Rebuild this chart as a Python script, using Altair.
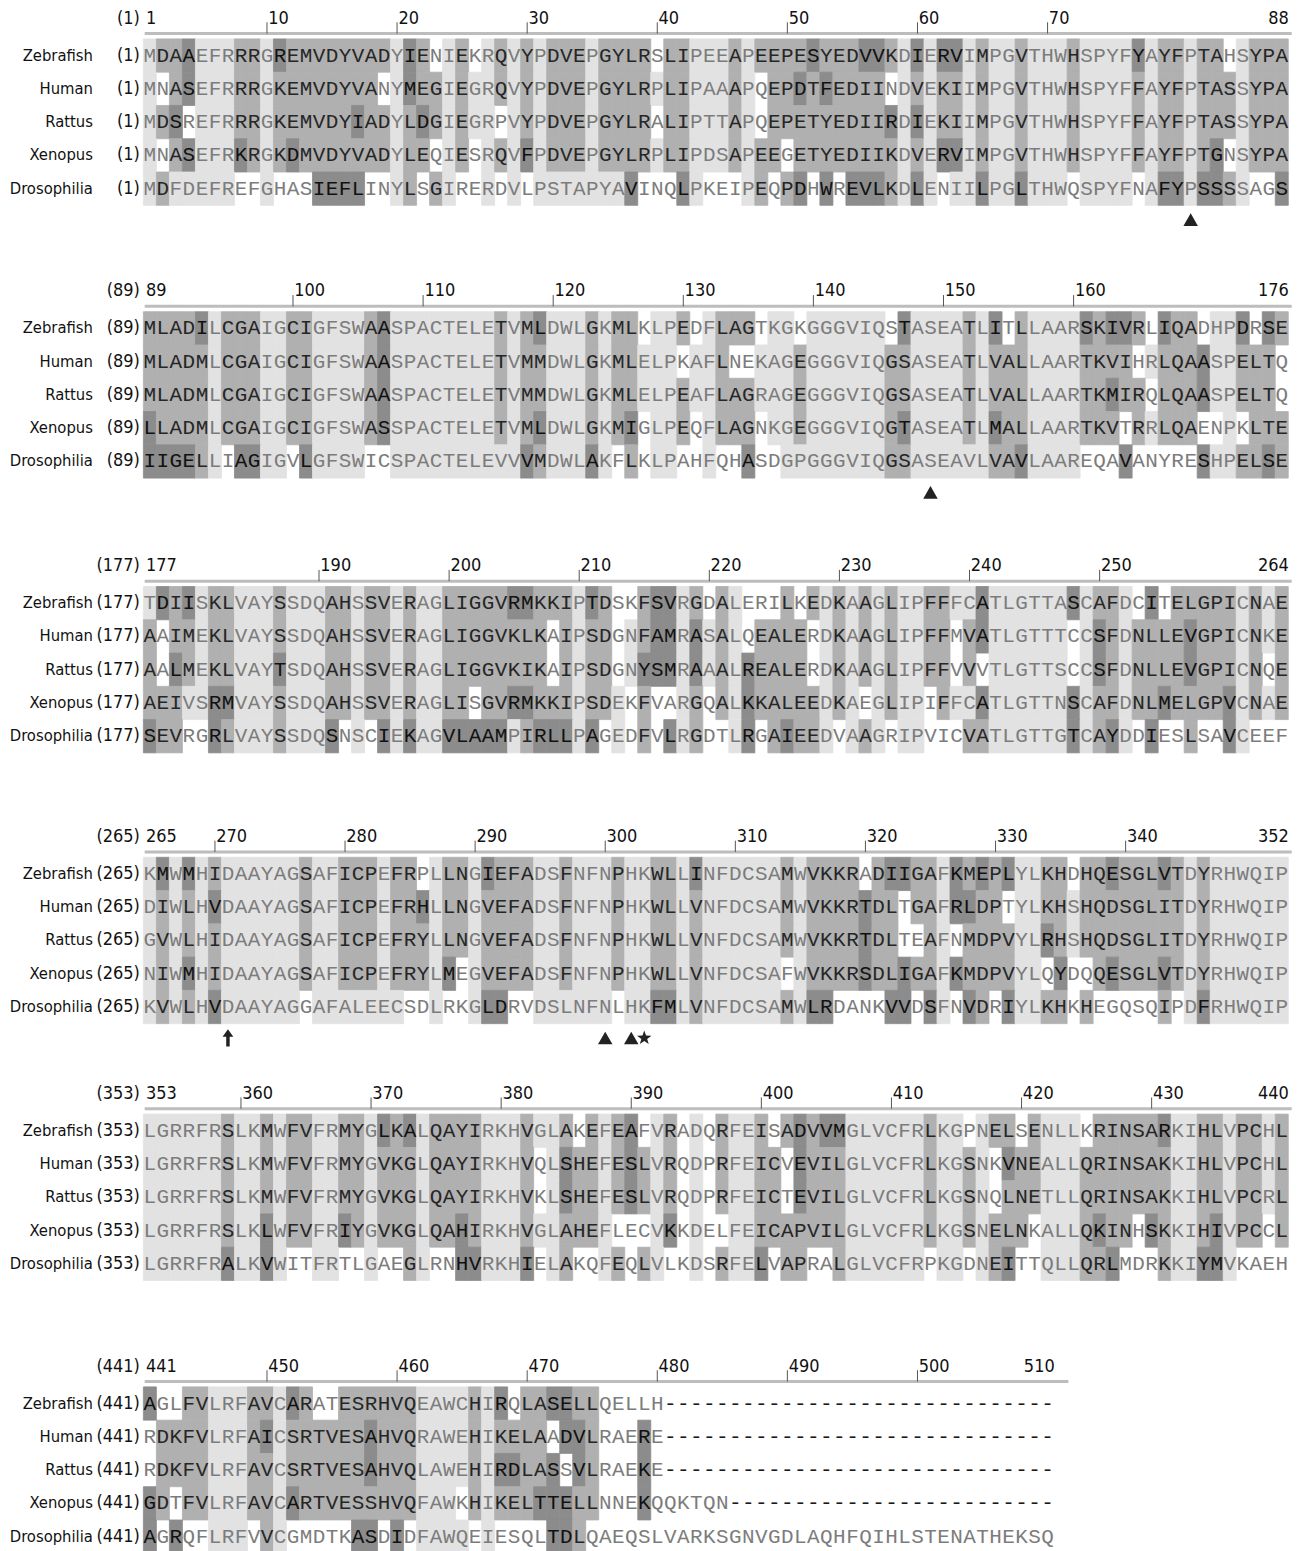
import altair as alt
import pandas as pd

SPECIES = ["Zebrafish", "Human", "Rattus", "Xenopus", "Drosophilia"]
BLOCK_START = [1, 89, 177, 265, 353, 441]
BLOCK_LABELS = [
    [1, 10, 20, 30, 40, 50, 60, 70, 88],
    [89, 100, 110, 120, 130, 140, 150, 160, 176],
    [177, 190, 200, 210, 220, 230, 240, 250, 264],
    [265, 270, 280, 290, 300, 310, 320, 330, 340, 352],
    [353, 360, 370, 380, 390, 400, 410, 420, 430, 440],
    [441, 450, 460, 470, 480, 490, 500, 510],
]

SEQ_ZEBRAFISH = [
    "MDAAEFRRRGREMVDYVADYIENIEKRQVYPDVEPGYLRSLIPEEAPEEPESYEDVVKDIERVIMPGVTHWHSPYFYAYFPTAHSYPA",
    "MLADILCGAIGCIGFSWAASPACTELETVMLDWLGKMLKLPEDFLAGTKGKGGGVIQSTASEATLITLLAARSKIVRLIQADHPDRSE",
    "TDIISKLVAYSSDQAHSSVERAGLIGGVRMKKIPTDSKFSVRGDALERILKEDKAAGLIPFFFCATLGTTASCAFDCITELGPICNAE",
    "KMWMHIDAAYAGSAFICPEFRPLLNGIEFADSFNFNPHKWLLINFDCSAMWVKKRADIIGAFKMEPLYLKHDHQESGLVTDYRHWQIP",
    "LGRRFRSLKMWFVFRMYGLKALQAYIRKHVGLAKEFEAFVRADQRFEISADVVMGLVCFRLKGPNELSENLLKRINSARKIHLVPCHL",
    "AGLFVLRFAVCARATESRHVQEAWCHIRQLASELLQELLH" "----------" "----------" "----------",
]
SEQ_HUMAN = [
    "MNASEFRRRGKEMVDYVANYMEGIEGRQVYPDVEPGYLRPLIPAAAPQEPDTFEDIINDVEKIIMPGVTHWHSPYFFAYFPTASSYPA",
    "MLADMLCGAIGCIGFSWAASPACTELETVMMDWLGKMLELPKAFLNEKAGEGGGVIQGSASEATLVALLAARTKVIHRLQAASPELTQ",
    "AAIMEKLVAYSSDQAHSSVERAGLIGGVKLKAIPSDGNFAMRASALQEALERDKAAGLIPFFMVATLGTTTCCSFDNLLEVGPICNKE",
    "DIWLHVDAAYAGSAFICPEFRHLLNGVEFADSFNFNPHKWLLVNFDCSAMWVKKRTDLTGAFRLDPTYLKHSHQDSGLITDYRHWQIP",
    "LGRRFRSLKMWFVFRMYGVKGLQAYIRKHVQLSHEFESLVRQDPRFEICVEVILGLVCFRLKGSNKVNEALLQRINSAKKIHLVPCHL",
    "RDKFVLRFAICSRTVESAHVQRAWEHIKELAADVLRAERE" "----------" "----------" "----------",
]
SEQ_RATTUS = [
    "MDSREFRRRGKEMVDYIADYLDGIEGRPVYPDVEPGYLRALIPTTAPQEPETYEDIIRDIEKIIMPGVTHWHSPYFFAYFPTASSYPA",
    "MLADMLCGAIGCIGFSWAASPACTELETVMMDWLGKMLELPEAFLAGRAGEGGGVIQGSASEATLVALLAARTKMIRQLQAASPELTQ",
    "AALMEKLVAYTSDQAHSSVERAGLIGGVKIKAIPSDGNYSMRAAALREALERDKAAGLIPFFVVVTLGTTSCCSFDNLLEVGPICNQE",
    "GVWLHIDAAYAGSAFICPEFRYLLNGVEFADSFNFNPHKWLLVNFDCSAMWVKKRTDLTEAFNMDPVYLRHSHQDSGLITDYRHWQIP",
    "LGRRFRSLKMWFVFRMYGVKGLQAYIRKHVKLSHEFESLVRQDPRFEICTEVILGLVCFRLKGSNQLNETLLQRINSAKKIHLVPCRL",
    "RDKFVLRFAVCSRTVESAHVQLAWEHIRDLASSVLRAEKE" "----------" "----------" "----------",
]
SEQ_XENOPUS = [
    "MNASEFRKRGKDMVDYVADYLEQIESRQVFPDVEPGYLRPLIPDSAPEEGETYEDIIKDVERVIMPGVTHWHSPYFFAYFPTGNSYPA",
    "LLADMLCGAIGCIGFSWASSPACTELETVMLDWLGKMIGLPEQFLAGNKGEGGGVIQGTASEATLMALLAARTKVTRRLQAENPKLTE",
    "AEIVSRMVAYSSDQAHSSVERAGLISGVRMKKIPSDEKFVARGQALKKALEEDKAEGLIPIFFCATLGTTNSCAFDNLMELGPVCNAE",
    "NIWMHIDAAYAGSAFICPEFRYLMEGVEFADSFNFNPHKWLLVNFDCSAFWVKKRSDLIGAFKMDPVYLQYDQQESGLVTDYRHWQIP",
    "LGRRFRSLKLWFVFRIYGVKGLQAHIRKHVGLAHEFLECVKKDELFEICAPVILGLVCFRLKGSNELNKALLQKINHSKKIHIVPCCL",
    "GDTFVLRFAVCARTVESSHVQFAWKHIKELTTELLNNEKQQKTQN" "----------" "----------" "-----",
]
SEQ_DROSOPHILIA = [
    "MDFDEFREFGHASIEFLINYLSGIRERDVLPSTAPYAVINQLPKEIPEQPDHWREVLKDLENIILPGLTHWQSPYFNAFYPSSSSAGS",
    "IIGELLIAGIGVLGFSWICSPACTELEVVVMDWLAKFLKLPAHFQHASDGPGGGVIQGSASEAVLVAVLAAREQAVANYRESHPELSE",
    "SEVRGRLVAYSSDQSNSCIEKAGVLAAMPIRLLPAGEDFVLRGDTLRGAIEEDVAAGRIPVICVATLGTTGTCAYDDIESLSAVCEEF",
    "KVWLHVDAAYAGGAFALEECSDLRKGLDRVDSLNFNLHKFMLVNFDCSAMWLRDANKVVDSFNVDRIYLKHKHEGQSQIPDFRHWQIP",
    "LGRRFRALKVWITFRTLGAEGLRNHVRKHIELAKQFEQLVLKDSRFELVAPRALGLVCFRPKGDNEITTQLLQRLMDRKKIYMVKAEH",
    "AGRQFLRFVVCGMDTKASDIDFAWQEIESQLTDLQAEQSLVARKSGNVGDLAQHFQIHLSTENATHEKSQ",
]

# shading level read per residue: 0 none, 1 light, 2 medium, 3 dark
SHADE_ZEBRAFISH = [
    "1223111221" "3222222221" "3201201212" "1222122220" "2211121222" "2322233213" "1331211211" "1211113122" "12201222",
    "2222312221" "1221111231" "1111111212" "3111212201" "1201222011" "0111111031" "1112130211" "1132332032" "20113032",
    "1323122111" "2111221221" "2112222233" "2221320023" "3120210002" "0212121211" "2211311111" "1312210302" "22221212",
    "1313121111" "1121122212" "2012213222" "1121112112" "2131111112" "1222202332" "2132323112" "2022322232" "12111111",
    "1111112112" "1221122132" "3122221112" "1120212301" "2010211202" "3233111111" "2110122021" "1102222231" "12212212",
    "3002211122" "1320022222" "2111121302" "2332200000" "0000000000" "0000000000" "0000000000",
]
SHADE_HUMAN = [
    "1023111221" "2222222201" "3221211212" "1222122221" "2211121022" "3232222012" "1221211211" "1211112122" "12221222",
    "2222212221" "1221111231" "1111111212" "2111212211" "1011200111" "2111111221" "1112122211" "1122220122" "23112220",
    "2022122111" "2111221221" "2112222222" "2021220123" "3131210222" "2012121211" "2202311111" "1013212222" "32221212",
    "1212131111" "1121122212" "2312212222" "1121112112" "2121111112" "1222232202" "2133220112" "2122222222" "12111111",
    "1111112112" "1221122122" "2122221112" "0132212321" "2010211220" "3222111111" "2112103221" "1122222221" "12212212",
    "0222211123" "1222222322" "2111121222" "2033200030" "0000000000" "0000000000" "0000000000",
]
SHADE_RATTUS = [
    "1230111221" "2222223221" "2321211012" "1222122220" "2211121022" "2222222313" "1221211211" "1211112122" "12221222",
    "2222212221" "1221111231" "1111111212" "2111212211" "1211222111" "2111111221" "1112122211" "1122322022" "23112220",
    "2032122111" "3111221221" "2112222222" "2021220133" "3131213222" "2012121211" "2202011111" "1013212222" "32221202",
    "1212121111" "1121122212" "2212212222" "1121112112" "2121111112" "1222232200" "2102222113" "2122222222" "12111111",
    "1111112112" "1221122122" "2122221112" "0132212321" "2010211220" "3222111111" "2112102221" "1122222221" "12212212",
    "0222211122" "1222222322" "2111121332" "2303200030" "0000000000" "0000000000" "0000000000",
]
SHADE_XENOPUS = [
    "1023111321" "2322222221" "2201201213" "1222122221" "2211121220" "2222222212" "1331211211" "1211112122" "12301222",
    "3222212221" "1221111231" "1111111212" "3111212301" "1201222011" "2111111231" "1112132211" "1122202122" "20010222",
    "2221133111" "2111221221" "2112202233" "2221221020" "0120213222" "2212101211" "0211311111" "1312212232" "22231212",
    "1213121111" "1121122212" "2213012222" "1121112112" "2121111110" "1222232232" "2132222110" "3002322232" "12111111",
    "1111112113" "1221132122" "2122321112" "1122210001" "3010011222" "2222111111" "2112122201" "1123220321" "12312202",
    "3202211122" "1322222222" "2111021222" "3332200030" "0000000000" "0000000000" "0000000000",
]
SHADE_DROSOPHILIA = [
    "1211111001" "0003333001" "2021001010" "1111111300" "0310001202" "3030333213" "1011311311" "1011110133" "13321003",
    "3333210331" "1031111001" "1111111113" "2111310201" "1001003001" "1111111221" "1111122311" "1100030000" "03112232",
    "3220032111" "2111301031" "3113333312" "3331301020" "3120013023" "2210121011" "0002211111" "1312310300" "20031000",
    "1212131111" "1101111111" "0010013300" "1111110113" "3121111112" "1330000330" "3103203112" "2020000020" "13111111",
    "1111113113" "1001100100" "2100331113" "0120012021" "0010211302" "2002111111" "0110123001" "1122300021" "13310000",
    "3030011102" "1000003303" "0111101000" "0332000000" "0000000000" "0000000000" "0000000000",
]

MARK_POS = [81, 149, 271, 300, 302, 303]
MARK_KIND = ["triangle", "triangle", "arrow", "triangle", "triangle", "star"]

SEQS = [SEQ_ZEBRAFISH, SEQ_HUMAN, SEQ_RATTUS, SEQ_XENOPUS, SEQ_DROSOPHILIA]
SHADES = [SHADE_ZEBRAFISH, SHADE_HUMAN, SHADE_RATTUS, SHADE_XENOPUS, SHADE_DROSOPHILIA]

for s_list, h_list in zip(SEQS, SHADES):
    for b in range(6):
        n = 88 if b < 5 else 70
        assert len(s_list[b]) == n, (b, len(s_list[b]), s_list[b][:10])
        assert len(h_list[b]) == n, (b, len(h_list[b]), h_list[b][:10])

# ---- layout ----
COL_PX = 13.02
ROW_PX = 33.3
W = 1286
X_DOMAIN = [1 - 142 / COL_PX, 1 + (W - 142) / COL_PX]
Y_TOP = -47 / ROW_PX
BLOCK_H = [273, 275, 271, 257, 273, 195]
HEADER_ROW = -37 / ROW_PX
RULER_ROW = -22 / ROW_PX
TICK_TOP = -1.0
MARK_ROW = 4.93
NAME_X = 1 + (93 - 150) / COL_PX
NUM_X = 1 + (140 - 150) / COL_PX

BG = ["#e2e2e2", "#b0b0b0", "#8c8c8c"]
TXT = ["#7c7c7c", "#7c7c7c", "#262626", "#111111", "#1a1a1a"]
LABEL_FONT = "DejaVu Sans Condensed, Liberation Sans Narrow, Liberation Sans"
NAME_SIZE = 16.5
NUM_SIZE = 18

STAR = ("M0,-1L0.235,-0.324L0.951,-0.309L0.38,0.124L0.588,0.809L0,0.4"
        "L-0.588,0.809L-0.38,0.124L-0.951,-0.309L-0.235,-0.324Z")
ARROW = "M0,-1L0.62,-0.15L0.2,-0.15L0.2,1L-0.2,1L-0.2,-0.15L-0.62,-0.15Z"


def block_chart(b):
    h = BLOCK_H[b]
    start = BLOCK_START[b]
    n = len(SEQS[0][b])
    xs = alt.Scale(domain=X_DOMAIN, nice=False, zero=False)
    ys = alt.Scale(domain=[Y_TOP, Y_TOP + h / ROW_PX], nice=False, zero=False, reverse=True)

    def X(f):
        return alt.X(f, type="quantitative", scale=xs, axis=None)

    def Y(f):
        return alt.Y(f, type="quantitative", scale=ys, axis=None)

    cells = []
    for r in range(5):
        seq = SEQS[r][b]
        sh = SHADES[r][b]
        for i, (ch, lv) in enumerate(zip(seq, sh)):
            lvl = int(lv)
            cells.append(dict(col=i + 1, x0=i + 0.5, x1=i + 1.5, row=r,
                              y0=r - 0.5, y1=r + 0.5, ch=ch, level=lvl,
                              tone=4 if ch == "-" else lvl))
    cdf = pd.DataFrame(cells)

    bg = alt.Chart(cdf).transform_filter("datum.level > 0").mark_rect(strokeWidth=0.8).encode(
        x=X("x0"), x2="x1", y=Y("y0"), y2="y1",
        fill=alt.Fill("level:O", scale=alt.Scale(domain=[1, 2, 3], range=BG), legend=None),
        stroke=alt.Stroke("level:O", scale=alt.Scale(domain=[1, 2, 3], range=BG), legend=None),
    )
    txt = alt.Chart(cdf).mark_text(font="Liberation Mono", fontSize=21, baseline="middle",
                                   align="center").encode(
        x=X("col"), y=Y("row"), text="ch:N",
        color=alt.Color("tone:O", scale=alt.Scale(domain=[0, 1, 2, 3, 4], range=TXT), legend=None),
    )

    ndf = pd.DataFrame({"name": SPECIES, "row": list(range(5)), "x": [NAME_X] * 5})
    names = alt.Chart(ndf).mark_text(font=LABEL_FONT, fontSize=NAME_SIZE, align="right",
                                     baseline="middle", color="#111").encode(
        x=X("x"), y=Y("row"), text="name:N")

    num_rows = [HEADER_ROW] + list(range(5))
    nmdf = pd.DataFrame({"lab": ["(%d)" % start] * 6, "row": num_rows, "x": [NUM_X] * 6})
    nums = alt.Chart(nmdf).mark_text(font=LABEL_FONT, fontSize=NUM_SIZE, align="right",
                                     baseline="middle", color="#111").encode(
        x=X("x"), y=Y("row"), text="lab:N")

    labs = BLOCK_LABELS[b]
    hd = []
    for k, v in enumerate(labs):
        col = v - start + 1
        if k == 0:
            hd.append(dict(lab=str(v), x=col - 0.3, col=col, kind="first", row=HEADER_ROW))
        elif k == len(labs) - 1:
            hd.append(dict(lab=str(v), x=col + 0.55, col=col, kind="last", row=HEADER_ROW))
        else:
            hd.append(dict(lab=str(v), x=col + 0.1, col=col, kind="mid", row=HEADER_ROW,
                           t0=TICK_TOP, t1=RULER_ROW))
    hdf = pd.DataFrame(hd)
    head_l = alt.Chart(hdf).transform_filter("datum.kind != 'last'").mark_text(
        font=LABEL_FONT, fontSize=NUM_SIZE, align="left", baseline="middle", color="#111").encode(
        x=X("x"), y=Y("row"), text="lab:N")
    head_r = alt.Chart(hdf).transform_filter("datum.kind == 'last'").mark_text(
        font=LABEL_FONT, fontSize=NUM_SIZE, align="right", baseline="middle", color="#111").encode(
        x=X("x"), y=Y("row"), text="lab:N")
    ticks = alt.Chart(hdf).transform_filter("datum.kind == 'mid'").mark_rule(
        color="#555", strokeWidth=1).encode(x=X("col"), y=Y("t0"), y2="t1")

    rdf = pd.DataFrame({"x0": [0.6], "x1": [min(n + 1.6, X_DOMAIN[1] - 0.1)], "y": [RULER_ROW]})
    ruler = alt.Chart(rdf).mark_rule(color="#bdbdbd", strokeWidth=3).encode(
        x=X("x0"), x2="x1", y=Y("y"))

    layers = [bg, txt, names, nums, ruler, ticks, head_l, head_r]

    md = []
    for p, kd in zip(MARK_POS, MARK_KIND):
        if start <= p < start + n:
            md.append(dict(col=p - start + 1, row=MARK_ROW, kind=kd))
    if md:
        mdf = pd.DataFrame(md)
        for kd, shape, size in [("triangle", "triangle-up", 210), ("arrow", ARROW, 300),
                                ("star", STAR, 230)]:
            if any(m["kind"] == kd for m in md):
                layers.append(
                    alt.Chart(mdf).transform_filter("datum.kind == '%s'" % kd).mark_point(
                        shape=shape, filled=True, size=size, color="#222222", opacity=1,
                        strokeWidth=0).encode(x=X("col"), y=Y("row"))
                )

    return alt.layer(*layers).properties(width=W, height=h)


chart = alt.vconcat(*[block_chart(b) for b in range(6)], spacing=0, bounds="flush").properties(
    padding=0, background="white"
).configure_view(stroke=None)

chart.save("out.html", embed_options={"renderer": "svg", "actions": False})
